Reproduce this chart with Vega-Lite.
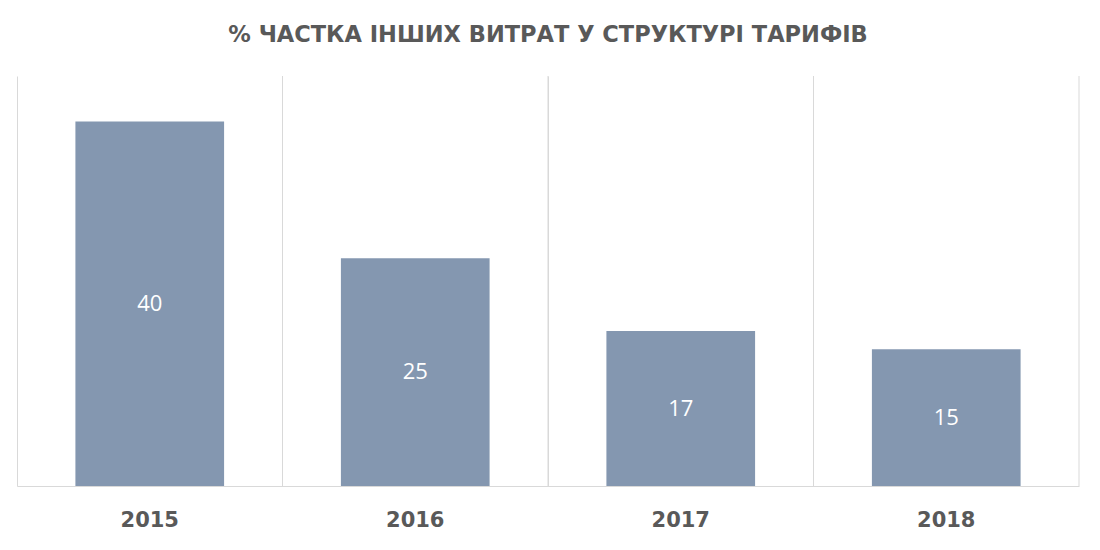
{
  "$schema": "https://vega.github.io/schema/vega-lite/v6.json",
  "width": 1100,
  "height": 550,
  "autosize": {"type": "fit", "contains": "padding"},
  "padding": {"left": 17, "right": 20, "top": 24, "bottom": 20},
  "background": "white",
  "title": {
    "text": "% ЧАСТКА ІНШИХ ВИТРАТ У СТРУКТУРІ ТАРИФІВ",
    "font": "DejaVu Sans",
    "fontSize": 22.5,
    "fontWeight": "bold",
    "color": "#595959",
    "offset": 29
  },
  "config": {"view": {"stroke": null}},
  "data": {
    "values": [
      {"year": "2015", "share": 40},
      {"year": "2016", "share": 25},
      {"year": "2017", "share": 17},
      {"year": "2018", "share": 15}
    ]
  },
  "encoding": {
    "x": {
      "field": "year",
      "type": "ordinal",
      "title": null,
      "scale": {"paddingInner": 0, "paddingOuter": 0},
      "axis": {
        "bandPosition": 0,
        "grid": true,
        "gridColor": "#d9d9d9",
        "domainColor": "#d9d9d9",
        "ticks": false,
        "labelAngle": 0,
        "labelFont": "DejaVu Sans",
        "labelFontSize": 21,
        "labelFontWeight": "bold",
        "labelColor": "#595959",
        "labelPadding": 23
      }
    }
  },
  "resolve": {"scale": {"y": "independent"}},
  "layer": [
    {
      "mark": {"type": "rule", "color": "#d9d9d9"},
      "encoding": {
        "x": {"field": "year", "type": "ordinal", "bandPosition": 1}
      }
    },
    {
      "mark": {"type": "bar", "color": "#8497b0", "width": {"band": 0.56}},
      "encoding": {
        "y": {
          "field": "share",
          "type": "quantitative",
          "scale": {"domain": [0, 45]},
          "axis": null
        }
      }
    },
    {
      "mark": {"type": "text", "color": "white", "font": "Open Sans", "fontSize": 22, "baseline": "middle"},
      "encoding": {
        "y": {
          "field": "share",
          "type": "quantitative",
          "scale": {"domain": [0, 90]},
          "axis": null
        },
        "text": {"field": "share", "type": "quantitative"}
      }
    }
  ]
}
